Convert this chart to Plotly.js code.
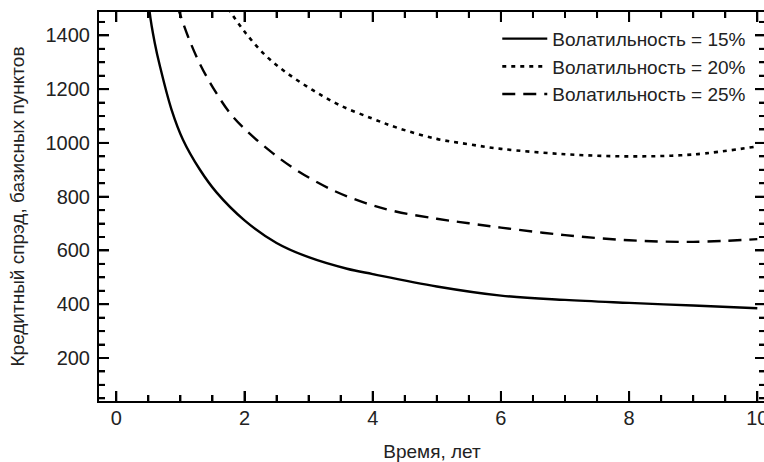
<!DOCTYPE html>
<html>
<head>
<meta charset="utf-8">
<script src="https://cdn.plot.ly/plotly-3.0.1.min.js"></script>
<style>
html,body{margin:0;padding:0;overflow:hidden;background:#fff;}
#chart{position:relative;width:770px;height:462px;}
</style>
</head>
<body>
<div id="chart"></div>
<script>
// Series: volatility 15% (solid)
const x15 = [0.5, 0.52, 0.6, 0.68, 0.86, 1.04, 1.3, 1.56, 2.0, 2.5, 3.0, 3.6, 4.0, 5.0, 6.0, 7.0, 8.0, 9.0, 10.0];
const y15 = [1560, 1487, 1372, 1286, 1125, 1012, 902, 817, 712, 628, 575, 532, 512, 466, 432, 416, 405, 395, 385];
// Series: volatility 20% (dotted)
const x20 = [1.75, 1.79, 2.02, 2.33, 2.65, 3.06, 3.48, 4.0, 4.4, 5.0, 5.5, 6.0, 7.0, 8.0, 9.0, 10.0];
const y20 = [1500, 1484, 1408, 1325, 1262, 1197, 1141, 1090, 1055, 1015, 995, 978, 958, 950, 957, 987];
// Series: volatility 25% (dashed)
const x25 = [0.95, 0.99, 1.12, 1.30, 1.51, 1.77, 2.02, 2.44, 2.85, 3.37, 3.89, 4.36, 5.0, 5.5, 6.0, 7.0, 8.0, 9.0, 10.0];
const y25 = [1510, 1482, 1395, 1296, 1205, 1112, 1048, 962, 893, 825, 776, 745, 718, 701, 685, 657, 638, 632, 642];

const names = ['Волатильность = 15%', 'Волатильность = 20%', 'Волатильность = 25%'];
const xMajor = [0, 2, 4, 6, 8, 10];
const yMajor = [200, 400, 600, 800, 1000, 1200, 1400];
const xMinorStep = 0.5;
const yMinorStep = 50;

const font = 'Liberation Sans, Arial, Helvetica, sans-serif';
const textColor = '#222';

const traces = [
  {x: x15, y: y15, name: names[0], mode: 'lines', legendgroup: 'a',
   line: {color: '#000', width: 2.4, shape: 'spline', smoothing: 1}},
  {x: x20, y: y20, name: names[1], mode: 'lines', legendgroup: 'b',
   line: {color: '#000', width: 2.6, dash: '4px,5px', shape: 'spline', smoothing: 1}},
  {x: x25, y: y25, name: names[2], mode: 'lines', legendgroup: 'c',
   line: {color: '#000', width: 2.4, dash: '13px,8px', shape: 'spline', smoothing: 1}}
];

// Tick marks on all four sides, placed through the axes' own scales.
const plotW = 666, plotH = 389;
const shapes = [];
const tickLine = {color: '#000', width: 2};
function addX(v, len) {
  const f = len / plotH;
  shapes.push({type: 'line', layer: 'above', xref: 'x', yref: 'paper', x0: v, x1: v, y0: 0, y1: f, line: tickLine});
  shapes.push({type: 'line', layer: 'above', xref: 'x', yref: 'paper', x0: v, x1: v, y0: 1, y1: 1 - f, line: tickLine});
}
function addY(v, len) {
  const f = len / plotW;
  shapes.push({type: 'line', layer: 'above', xref: 'paper', yref: 'y', x0: 0, x1: f, y0: v, y1: v, line: tickLine});
  shapes.push({type: 'line', layer: 'above', xref: 'paper', yref: 'y', x0: 1, x1: 1 - f, y0: v, y1: v, line: tickLine});
}
for (let v = xMajor[0]; v <= xMajor[xMajor.length - 1] + 1e-9; v += xMinorStep) {
  addX(v, xMajor.indexOf(Math.round(v * 100) / 100) >= 0 ? 10 : 6);
}
for (let v = yMinorStep; v <= 1450 + 1e-9; v += yMinorStep) {
  addY(v, yMajor.indexOf(v) >= 0 ? 10 : 6);
}

const layout = {
  width: 770, height: 462,
  margin: {l: 99, r: 5, t: 12, b: 61},
  showlegend: true,
  shapes: shapes,
  legend: {
    x: 0.598, y: 0.98, xanchor: 'left', yanchor: 'top',
    bgcolor: 'rgba(0,0,0,0)', borderwidth: 0,
    traceorder: 'grouped', tracegroupgap: 0, itemwidth: 45,
    font: {family: font, size: 19, color: textColor}
  },
  xaxis: {
    showline: true, linecolor: '#000', linewidth: 2, mirror: 'ticks',
    ticks: 'inside', ticklen: 10, tickwidth: 2, tickcolor: '#000',
    showgrid: false, zeroline: false, ticklabelstandoff: -2,
    tickfont: {family: font, size: 20, color: textColor},
    range: [-0.27, 10.12], tickvals: xMajor, ticktext: xMajor.map(String),
    minor: {dtick: xMinorStep, ticks: 'inside', ticklen: 6, tickwidth: 2, tickcolor: '#000'},
    title: {text: 'Время, лет', font: {family: font, size: 19, color: textColor}, standoff: 18}
  },
  yaxis: {
    showline: true, linecolor: '#000', linewidth: 2, mirror: 'ticks',
    ticks: 'inside', ticklen: 10, tickwidth: 2, tickcolor: '#000',
    showgrid: false, zeroline: false, ticklabelstandoff: 3,
    tickfont: {family: font, size: 20, color: textColor},
    range: [40, 1487], tickvals: yMajor, ticktext: yMajor.map(String),
    minor: {dtick: yMinorStep, ticks: 'inside', ticklen: 6, tickwidth: 2, tickcolor: '#000'},
    title: {text: 'Кредитный спрэд, базисных пунктов', font: {family: font, size: 19, color: textColor}, standoff: 16}
  }
};

Plotly.newPlot('chart', traces, layout, {displayModeBar: false});
</script>
</body>
</html>
